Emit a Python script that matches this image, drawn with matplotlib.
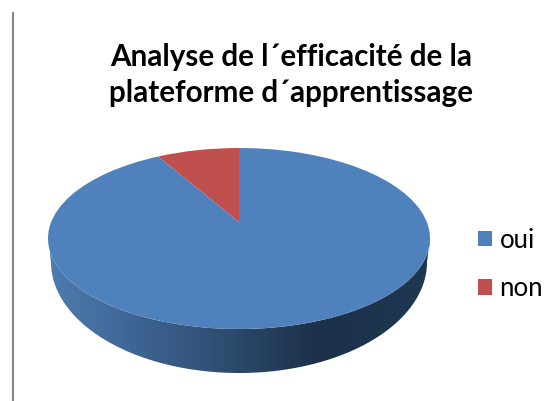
import numpy as np
import matplotlib
matplotlib.use('Agg')
import matplotlib.pyplot as plt
import matplotlib.transforms as mtransforms
from matplotlib.colors import LinearSegmentedColormap
from matplotlib.patches import Polygon

labels = ['oui', 'non']
values = [91.7, 8.3]
colors = ['#4f81bd', '#c0504d']
title = 'Analyse de l´efficacité de la\nplateforme d´apprentissage'

W, H = 555, 401
# top face of the pie in pixels
cx, cy, rx, ry = 239, 238.5, 191, 90.5
tilt = 0.182  # moves the pie centre up, like the 3d view


def px_x(x):
    return (np.asarray(x) - cx) / rx


def px_y(y):
    return (cy - np.asarray(y)) / ry


class Tilt(mtransforms.Transform):
    input_dims = 2
    output_dims = 2

    def transform_non_affine(self, xy):
        xy = np.asarray(xy)
        d = 1 + tilt * xy[:, 1]
        return np.column_stack([xy[:, 0] * np.sqrt(1 - tilt ** 2) / d, (xy[:, 1] + tilt) / d])


plt.rcParams['font.family'] = ['Lato', 'DejaVu Sans']
fig = plt.figure(figsize=(W / 100, H / 100), dpi=100)
ax = fig.add_axes([0, 0, 1, 1])

wedges, _ = ax.pie(values, colors=colors, startangle=90, counterclock=False,
                   wedgeprops={'linewidth': 0}, frame=False)
for w in wedges:
    w.set_transform(Tilt() + ax.transData)
    w.set_zorder(3)

# side of the pie
t = np.linspace(np.pi, 2 * np.pi, 200)
top_x, top_y = cx + rx * np.cos(t), cy - ry * np.sin(t)
bot_x, bot_y = 239 + 188 * np.cos(t[::-1]), 262 - 111 * np.sin(t[::-1])
side = Polygon(np.column_stack([px_x(np.r_[top_x, bot_x]), px_y(np.r_[top_y, bot_y])]),
               transform=ax.transData, facecolor='none', edgecolor='none')
ax.add_patch(side)
shade = LinearSegmentedColormap.from_list('side', [(0, '#4d7cae'), (0.18, '#41699a'), (0.45, '#2f4e72'),
                                                   (0.7, '#1c3049'), (1, '#1f3852')])
im = ax.imshow(np.linspace(0, 1, 256)[None, :], cmap=shade, aspect='auto', zorder=2,
               extent=[px_x(50), px_x(430), px_y(375), px_y(235)])
im.set_clip_path(side)

ax.set_aspect('auto')
ax.set_xlim(px_x(0), px_x(W))
ax.set_ylim(px_y(H), px_y(0))
ax.axis('off')

fig.text(291 / W, 1 - 75 / H, title, ha='center', va='center', fontsize=21.3, fontweight='bold',
         color='black', linespacing=1.36)

leg = fig.legend(wedges, labels, loc='center left', bbox_to_anchor=(478 / W, 1 - 264.5 / H), frameon=False,
                 fontsize=18.5, handlelength=0.54, handleheight=0.54, handletextpad=0.3,
                 labelspacing=0.9, borderpad=0, borderaxespad=0)

# grey rule on the left
fig.add_artist(plt.Line2D([13 / W, 13 / W], [0, 1 - 13 / H], color='#868686', lw=1.5))

fig.savefig('out.png', dpi=100)
